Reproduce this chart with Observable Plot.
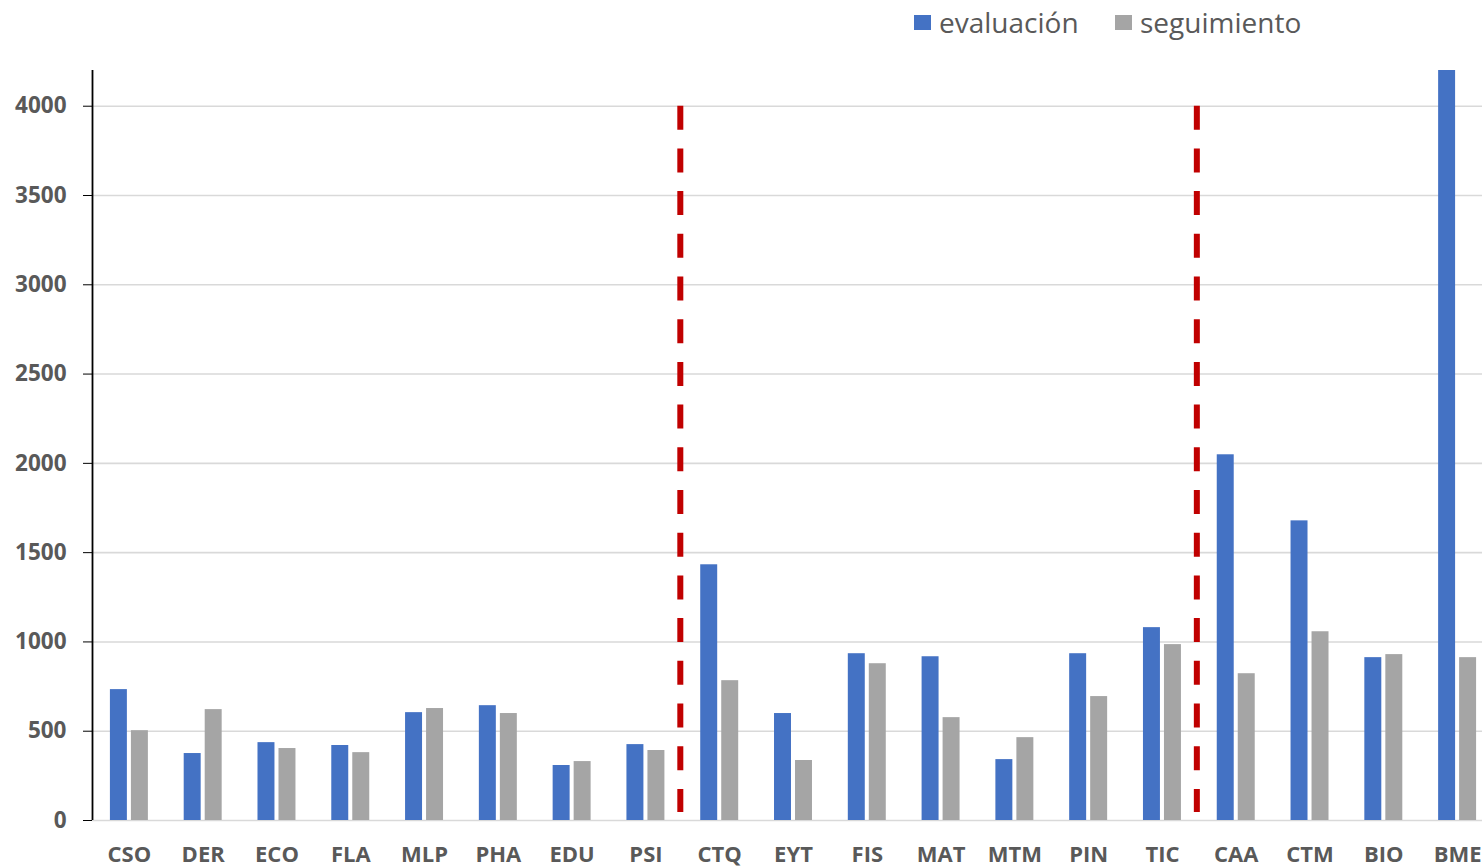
<!DOCTYPE html>
<html>
<head>
<meta charset="utf-8">
<script src="https://cdn.jsdelivr.net/npm/d3@7"></script>
<script src="https://cdn.jsdelivr.net/npm/@observablehq/plot@0.6"></script>
<style>
  html, body { margin: 0; padding: 0; background: #fff; overflow: hidden; width: 1482px; height: 867px; }
  #legend { position: relative; height: 44px; font-family: "Open Sans", sans-serif; font-size: 28px; color: #595959; }
  .item { position: absolute; top: 0; height: 44px; display: flex; align-items: center; }
  .sw { width: 17px; height: 15px; margin-right: 8px; }
  #chart { width: 1482px; overflow: hidden; }
  #chart svg { display: block; max-width: none !important; }
</style>
</head>
<body>
<div id="legend"></div>
<div id="chart"></div>
<script>
const categories = ["CSO","DER","ECO","FLA","MLP","PHA","EDU","PSI","CTQ","EYT","FIS","MAT","MTM","PIN","TIC","CAA","CTM","BIO","BME"];
const evaluacion = [733, 375, 436, 420, 604, 643, 308, 425, 1432, 599, 934, 917, 341, 934, 1080, 2048, 1678, 912, 4400];
const seguimiento = [503, 621, 403, 380, 627, 599, 330, 392, 783, 336, 878, 576, 464, 694, 985, 822, 1057, 929, 912];
const seriesNames = ["evaluación", "seguimiento"];
const seriesColors = ["#4472c4", "#a5a5a5"];
const yTicks = [0, 500, 1000, 1500, 2000, 2500, 3000, 3500, 4000];
const dividers = ["CTQ", "CAA"];

const rowsE = categories.map((c, i) => ({cat: c, value: evaluacion[i]}));
const rowsS = categories.map((c, i) => ({cat: c, value: seguimiento[i]}));

// legend
const legend = document.getElementById("legend");
const legendLeft = [914, 1115];
seriesNames.forEach((n, i) => {
  const d = document.createElement("div");
  d.className = "item";
  d.style.left = legendLeft[i] + "px";
  d.innerHTML = `<span class="sw" style="background:${seriesColors[i]}"></span><span>${n}</span>`;
  legend.appendChild(d);
});

const W = 1494, ML = 92;
const step = (W - ML) / categories.length;

const plot = Plot.plot({
  width: W,
  height: 823,
  marginTop: 26,
  marginBottom: 47,
  marginLeft: ML,
  marginRight: 0,
  style: {fontFamily: "'Open Sans', sans-serif", background: "white", maxWidth: "none"},
  x: {domain: categories, paddingInner: 0.77, paddingOuter: 0.385, round: false, label: null},
  y: {domain: [0, 4200], label: null},
  marks: [
    Plot.ruleY(yTicks, {stroke: "#d9d9d9", strokeWidth: 1.6}),
    Plot.barY(rowsE, {x: "cat", y: "value", fill: seriesColors[0], dx: -10.5, clip: true}),
    Plot.barY(rowsS, {x: "cat", y: "value", fill: seriesColors[1], dx: 10.5, clip: true}),
    Plot.ruleX(dividers, {x: d => d, y1: 4000, y2: 45, dx: -step / 2 - 2.5, stroke: "#c00000", strokeWidth: 6, strokeDasharray: "24,18.7"}),
    Plot.axisY({ticks: yTicks, tickSize: 9, tickPadding: 17, fontSize: 22.5, fontWeight: "bold", color: "#595959", stroke: "black", label: null, tickFormat: d => String(d)}),
    Plot.ruleX(["CSO"], {x: d => d, dx: -step / 2, y1: 0, y2: 4200, stroke: "black", strokeWidth: 1.8}),
    Plot.axisX({tickSize: 0, tickPadding: 26, fontSize: 22, fontWeight: "bold", color: "#595959", label: null})
  ]
});
document.getElementById("chart").appendChild(plot);
</script>
</body>
</html>
